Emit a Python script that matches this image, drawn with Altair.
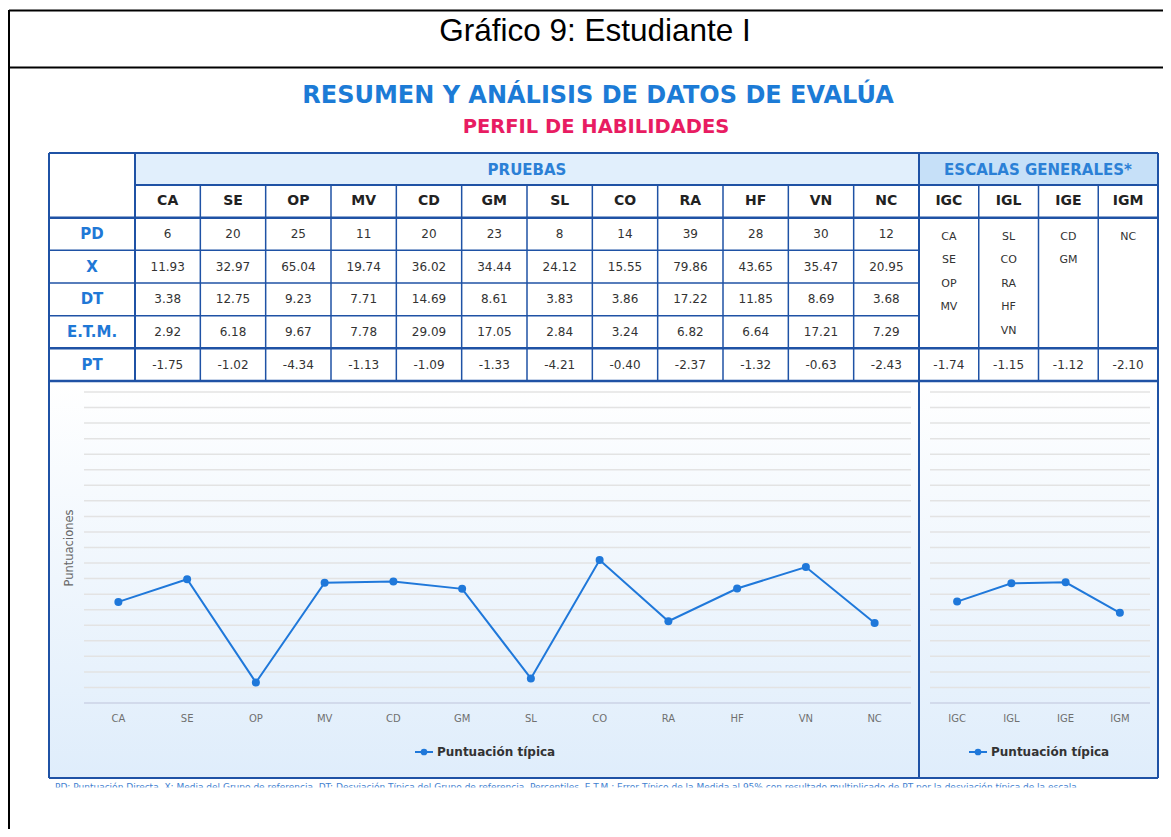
import altair as alt
import pandas as pd
import numpy as np

# ---------------- data ----------------
PRUEBAS = ["CA", "SE", "OP", "MV", "CD", "GM", "SL", "CO", "RA", "HF", "VN", "NC"]
PD = [6, 20, 25, 11, 20, 23, 8, 14, 39, 28, 30, 12]
X_MEDIA = [11.93, 32.97, 65.04, 19.74, 36.02, 34.44, 24.12, 15.55, 79.86, 43.65, 35.47, 20.95]
DT = [3.38, 12.75, 9.23, 7.71, 14.69, 8.61, 3.83, 3.86, 17.22, 11.85, 8.69, 3.68]
ETM = [2.92, 6.18, 9.67, 7.78, 29.09, 17.05, 2.84, 3.24, 6.82, 6.64, 17.21, 7.29]
PT = [-1.75, -1.02, -4.34, -1.13, -1.09, -1.33, -4.21, -0.40, -2.37, -1.32, -0.63, -2.43]

ESCALAS = ["IGC", "IGL", "IGE", "IGM"]
ESCALAS_PRUEBAS = [["CA", "SE", "OP", "MV"], ["SL", "CO", "RA", "HF", "VN"], ["CD", "GM"], ["NC"]]
ESCALAS_PT = [-1.74, -1.15, -1.12, -2.10]

ROW_LABELS = ["PD", "X", "DT", "E.T.M.", "PT"]
GRID_TICKS = [v / 2 for v in range(-10, 11)]  # -5 .. 5 step 0.5

TITLE = "Gráfico 9: Estudiante I"
HEAD1 = "RESUMEN Y ANÁLISIS DE DATOS DE EVALÚA"
HEAD2 = "PERFIL DE HABILIDADES"
SERIES_NAME = "Puntuación típica"
Y_TITLE = "Puntuaciones"
FOOTNOTE = ("PD: Puntuación Directa. X: Media del Grupo de referencia.                 "
            "DT: Desviación Típica del Grupo de referencia. Percentiles.   E.T.M.: Error Típico de la Medida al 95%   "
            "con resultado multiplicado de PT por la desviación típica de la escala")

# ---------------- layout / style ----------------
OFF = 8
W, H = 1155, 821


def P(v):
    return v - OFF


TBL = "#1f52a5"
HDR_TXT = "#2b80d6"
SERIES = "#1f78da"
FONT = "DejaVu Sans"
ONE = pd.DataFrame({"k": [0]})


def vline(x, y1, y2, w=1.5, color=TBL):
    return alt.Chart(ONE).mark_rule(color=color, strokeWidth=w).encode(
        x=alt.value(P(x)), y=alt.value(P(y1)), y2=alt.value(P(y2)))


def hline(y, x1, x2, w=1.5, color=TBL):
    return alt.Chart(ONE).mark_rule(color=color, strokeWidth=w).encode(
        y=alt.value(P(y)), x=alt.value(P(x1)), x2=alt.value(P(x2)))


def label(text, x, y, **kw):
    return alt.Chart(ONE).mark_text(text=text, **kw).encode(
        x=alt.value(P(x)), y=alt.value(P(y)))


def box(x1, x2, y1, y2, **kw):
    return alt.Chart(ONE).mark_rect(**kw).encode(
        x=alt.value(P(x1)), x2=alt.value(P(x2)), y=alt.value(P(y1)), y2=alt.value(P(y2)))


# scales
xs_tp = alt.Scale(type="band", domain=PRUEBAS, range=[P(135), P(919)], paddingInner=0, paddingOuter=0)
xs_te = alt.Scale(type="band", domain=ESCALAS, range=[P(919), P(1158)], paddingInner=0, paddingOuter=0)
ys_rows = alt.Scale(type="band", domain=["COD"] + ROW_LABELS, range=[P(185), P(381)], paddingInner=0, paddingOuter=0)
ys_list = alt.Scale(domain=[0, 4], range=[P(236.5), P(331)], zero=False, nice=False)
xs_lp = alt.Scale(type="point", domain=PRUEBAS, range=[P(84), P(909)], padding=0.5)
xs_le = alt.Scale(type="point", domain=ESCALAS, range=[P(930), P(1147)], padding=0.5)
ys_pt = alt.Scale(domain=[-5, 5], range=[P(703), P(392)], zero=False, nice=False)

# data frames
df_lp = pd.DataFrame({"cat": PRUEBAS, "pt": PT, "i": range(len(PRUEBAS))})
df_le = pd.DataFrame({"cat": ESCALAS, "pt": ESCALAS_PT, "i": range(len(ESCALAS))})
df_grid = pd.DataFrame({"v": GRID_TICKS})

recs = []
for name, vals in zip(ROW_LABELS, [PD, X_MEDIA, DT, ETM, PT]):
    for c, v in zip(PRUEBAS, vals):
        recs.append({"cat": c, "row": name, "txt": str(v) if name == "PD" else f"{v:.2f}"})
df_vals = pd.DataFrame(recs)
df_codes = pd.DataFrame({"cat": PRUEBAS, "row": "COD"})
df_ecodes = pd.DataFrame({"cat": ESCALAS, "row": "COD"})
df_ept = pd.DataFrame({"cat": ESCALAS, "row": "PT", "txt": [f"{v:.2f}" for v in ESCALAS_PT]})
df_elist = pd.DataFrame([{"cat": e, "idx": j, "txt": t}
                         for e, items in zip(ESCALAS, ESCALAS_PRUEBAS) for j, t in enumerate(items)])
df_rowlbl = pd.DataFrame({"row": ROW_LABELS})

layers = []

# ---- outer frame and title ----
layers += [
    hline(10.5, 9, 1180, w=2, color="#000"),
    hline(67.5, 9, 1180, w=2, color="#000"),
    vline(9, 10, 840, w=2, color="#000"),
    label(TITLE, 595, 32, font="Liberation Sans", fontSize=31.5, color="#000", baseline="middle", align="center"),
    label(HEAD1, 598, 96, font=FONT, fontSize=24, fontWeight="bold", color="#1c7bd6", baseline="middle", align="center"),
    label(HEAD2, 596, 127, font=FONT, fontSize=19.5, fontWeight="bold", color="#e81c62", baseline="middle", align="center"),
]

# ---- chart panel background ----
grad = alt.LinearGradient(gradient="linear",
                          stops=[alt.GradientStop(color="#ffffff", offset=0),
                                 alt.GradientStop(color="#dfedfb", offset=1)],
                          x1=0, x2=0, y1=0, y2=1)
layers.append(box(49, 1158, 381, 778, fill=grad))
layers.append(label(FOOTNOTE, 55, 783, font=FONT, fontSize=9, color="#3f7fd0", baseline="top", align="left"))
layers.append(box(11, 1171, 787.5, 840, fill="#ffffff"))

# ---- gridlines ----
for x1, x2 in [(84, 911), (930, 1150)]:
    layers.append(alt.Chart(df_grid).mark_rule(color="#e3e3e3", strokeWidth=1.5).encode(
        y=alt.Y("v:Q", scale=ys_pt, axis=None), x=alt.value(P(x1)), x2=alt.value(P(x2))))
    layers.append(hline(703, x1, x2, w=1.5, color="#ccd6eb"))

# ---- series ----
for df, xs in [(df_lp, xs_lp), (df_le, xs_le)]:
    enc = dict(x=alt.X("cat:N", scale=xs, axis=None), y=alt.Y("pt:Q", scale=ys_pt, axis=None))
    layers.append(alt.Chart(df).mark_line(color=SERIES, strokeWidth=2).encode(order=alt.Order("i:Q"), **enc))
    layers.append(alt.Chart(df).mark_circle(color=SERIES, size=64, opacity=1).encode(**enc))
    layers.append(alt.Chart(df).mark_text(font=FONT, fontSize=10, color="#707070", baseline="middle").encode(
        x=alt.X("cat:N", scale=xs, axis=None), y=alt.value(P(719)), text="cat:N"))

# ---- legends and axis title ----
for x0 in [415, 969]:
    layers.append(hline(752, x0, x0 + 18, w=2, color=SERIES))
    layers.append(alt.Chart(ONE).mark_circle(color=SERIES, size=45, opacity=1).encode(
        x=alt.value(P(x0 + 9)), y=alt.value(P(752))))
    layers.append(label(SERIES_NAME, x0 + 22, 752, font=FONT, fontSize=12, fontWeight="bold",
                        color="#333333", baseline="middle", align="left"))
layers.append(label(Y_TITLE, 70, 548, font=FONT, fontSize=11.5, color="#666666", angle=270,
                    baseline="middle", align="center"))

# ---- table header backgrounds ----
layers.append(box(135, 919, 153, 185, fill="#e1effc"))
layers.append(box(919, 1158, 153, 185, fill="#c6e0f8"))
layers.append(label("PRUEBAS", 527, 170, font=FONT, fontSize=15, fontWeight="bold", color=HDR_TXT,
                    baseline="middle", align="center"))
layers.append(label("ESCALAS GENERALES*", 1038, 170, font=FONT, fontSize=15, fontWeight="bold", color=HDR_TXT,
                    baseline="middle", align="center"))

# ---- table texts ----
layers.append(alt.Chart(df_codes).mark_text(font=FONT, fontSize=14, fontWeight="bold", color="#222222",
                                            baseline="middle").encode(
    x=alt.X("cat:N", scale=xs_tp, axis=None, bandPosition=0.5),
    y=alt.Y("row:N", scale=ys_rows, axis=None, bandPosition=0.5), text="cat:N"))
layers.append(alt.Chart(df_vals).mark_text(font=FONT, fontSize=12, color="#333333", baseline="middle").encode(
    x=alt.X("cat:N", scale=xs_tp, axis=None, bandPosition=0.5),
    y=alt.Y("row:N", scale=ys_rows, axis=None, bandPosition=0.5), text="txt:N"))
layers.append(alt.Chart(df_ecodes).mark_text(font=FONT, fontSize=14, fontWeight="bold", color="#222222",
                                             baseline="middle").encode(
    x=alt.X("cat:N", scale=xs_te, axis=None, bandPosition=0.5),
    y=alt.Y("row:N", scale=ys_rows, axis=None, bandPosition=0.5), text="cat:N"))
layers.append(alt.Chart(df_ept).mark_text(font=FONT, fontSize=12, color="#333333", baseline="middle").encode(
    x=alt.X("cat:N", scale=xs_te, axis=None, bandPosition=0.5),
    y=alt.Y("row:N", scale=ys_rows, axis=None, bandPosition=0.5), text="txt:N"))
layers.append(alt.Chart(df_elist).mark_text(font=FONT, fontSize=11, color="#333333", baseline="middle").encode(
    x=alt.X("cat:N", scale=xs_te, axis=None, bandPosition=0.5),
    y=alt.Y("idx:Q", scale=ys_list, axis=None), text="txt:N"))
layers.append(alt.Chart(df_rowlbl).mark_text(font=FONT, fontSize=15, fontWeight="bold", color="#1f78d6",
                                             baseline="middle").encode(
    x=alt.value(P(92)),
    y=alt.Y("row:N", scale=ys_rows, axis=None, bandPosition=0.5), text="row:N"))

# ---- table lines ----
layers.append(alt.Chart(df_codes).mark_rule(color=TBL, strokeWidth=1.5).encode(
    x=alt.X("cat:N", scale=xs_tp, axis=None, bandPosition=0), y=alt.value(P(185)), y2=alt.value(P(381))))
layers.append(alt.Chart(df_ecodes).mark_rule(color=TBL, strokeWidth=1.5).encode(
    x=alt.X("cat:N", scale=xs_te, axis=None, bandPosition=0), y=alt.value(P(185)), y2=alt.value(P(381))))
layers.append(alt.Chart(pd.DataFrame({"row": ["X", "DT", "E.T.M."]})).mark_rule(color=TBL, strokeWidth=1.5).encode(
    y=alt.Y("row:N", scale=ys_rows, axis=None, bandPosition=0), x=alt.value(P(49)), x2=alt.value(P(919))))
layers.append(alt.Chart(pd.DataFrame({"row": ["PD", "PT"]})).mark_rule(color=TBL, strokeWidth=2.5).encode(
    y=alt.Y("row:N", scale=ys_rows, axis=None, bandPosition=0), x=alt.value(P(49)), x2=alt.value(P(1158))))
layers += [
    hline(185, 135, 1158, w=2),
    hline(381, 49, 1158, w=2.5),
    hline(153, 49, 1158, w=2),
    hline(778, 49, 1158, w=2),
    vline(49, 153, 778, w=2),
    vline(1158, 153, 778, w=2),
    vline(919, 153, 778, w=2),
    vline(135, 153, 381, w=2),
]

chart = alt.layer(*layers).resolve_scale(x="independent", y="independent").properties(
    width=W, height=H, padding=0, autosize=alt.AutoSizeParams(type="none")
).configure_view(stroke=None)

chart.save("out.html", embed_options={"renderer": "svg", "actions": False})
